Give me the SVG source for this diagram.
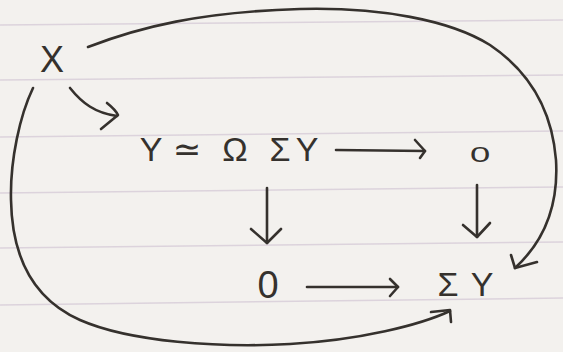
<svg xmlns="http://www.w3.org/2000/svg" width="563" height="352" viewBox="0 0 563 352">
<defs>
<style>
.paper{fill:#f3f1ee}
.rule{stroke:#dcd3dc;stroke-width:1.5;fill:none}
.ink{stroke:#35312d;stroke-width:2.6;fill:none;stroke-linecap:round;stroke-linejoin:round}
.lbl{font-family:"Liberation Sans","DejaVu Sans",sans-serif;fill:#35312d;text-anchor:middle}
</style>
</defs>
<rect class="paper" x="0" y="0" width="563" height="352"/>
<g id="ruled-lines">
<path class="rule" d="M0,25 L563,20"/>
<path class="rule" d="M0,80 L563,75"/>
<path class="rule" d="M0,137 L563,131"/>
<path class="rule" d="M0,193 L563,187"/>
<path class="rule" d="M0,248 L563,242"/>
<path class="rule" d="M0,305 L563,298"/>
</g>
<g id="connectors">
<path class="ink" d="M88,47 C140,27 200,12 300,9 C380,7 450,20 490,45 C530,72 552,110 556,160 C559,210 540,245 515,268"/>
<path class="ink" d="M537,262 L515,268 L511,255"/>
<path class="ink" d="M33,88 C20,115 10,160 11,200 C12,260 35,300 80,320 C130,342 220,348 290,344 C360,340 420,325 450,311"/>
<path class="ink" d="M431,312 L450,310 L451,322"/>
<path class="ink" d="M70,88 C82,103 95,113 117,116"/>
<path class="ink" d="M107,103 C112,107 116,111 118,115 L101,129"/>
<path class="ink" d="M336,150 L425,151"/>
<path class="ink" d="M415,140 L425,151 L420,158"/>
<path class="ink" d="M267,188 L267,243"/>
<path class="ink" d="M251,229 L267,243 L281,229"/>
<path class="ink" d="M477,185 L477,237"/>
<path class="ink" d="M463,225 L477,237 L490,223"/>
<path class="ink" d="M307,287 L398,287"/>
<path class="ink" d="M390,279 L398,287 L390,296"/>
</g>
<g id="node-x"><text class="lbl" x="52" y="72" font-size="36">X</text></g>
<g id="node-loop"><text class="lbl" x="151 187 235 280 307" y="161" font-size="34">Y≃ΩΣY</text></g>
<g id="node-zero-top"><text class="lbl" font-size="26" transform="translate(480,162) scale(1.4,0.85)">0</text></g>
<g id="node-zero-bottom"><text class="lbl" x="268" y="298" font-size="38">0</text></g>
<g id="node-sigma"><text class="lbl" x="448 482" y="296" font-size="34">ΣY</text></g>
</svg>
